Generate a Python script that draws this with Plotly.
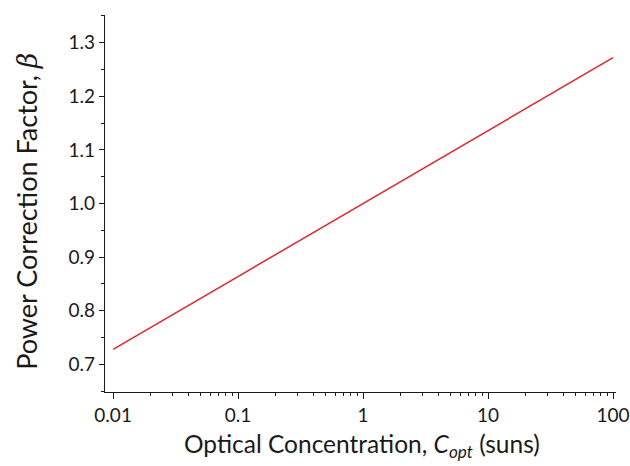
import plotly.graph_objects as go

# Data
concentration = [0.01, 0.1, 1, 10, 100]
beta = [0.728, 0.864, 1.0, 1.136, 1.272]

x_tickvals = [0.01, 0.1, 1, 10, 100]
x_ticktext = ["0.01", "0.1", "1", "10", "100"]
x_minor = [m * 10 ** e for e in (-2, -1, 0, 1) for m in range(2, 10)]
y_tickvals = [0.7, 0.8, 0.9, 1.0, 1.1, 1.2, 1.3]
y_ticktext = ["0.7", "0.8", "0.9", "1.0", "1.1", "1.2", "1.3"]

x_title = "Optical Concentration, <i>C</i><sub><i>opt</i></sub> (suns)"
y_title = "Power Correction Factor, <span style=\"font-family:'DejaVu Serif'\"><i>β</i></span>"

font_family = "Lato, 'Open Sans', sans-serif"
ink = "#1a1a1a"

fig = go.Figure()
fig.add_trace(go.Scatter(
    x=concentration, y=beta, mode="lines",
    line=dict(color="#e0262e", width=1.5),
    showlegend=False,
))

fig.update_layout(
    width=630, height=466,
    margin=dict(l=105, r=14, t=15, b=74),
    paper_bgcolor="white", plot_bgcolor="white",
    font=dict(family=font_family, color=ink, size=19),
)

fig.update_xaxes(
    type="log", range=[-2.065, 2.024], automargin=False,
    showline=True, linecolor=ink, linewidth=1.3,
    showgrid=False, zeroline=False,
    tickmode="array", tickvals=x_tickvals, ticktext=x_ticktext,
    ticks="outside", ticklen=6, tickwidth=1.2, tickcolor=ink,
    minor=dict(tickmode="array", tickvals=x_minor, ticks="outside",
               ticklen=3, tickwidth=1.2, tickcolor=ink, showgrid=False),
    tickfont=dict(size=19),
)

fig.update_yaxes(
    range=[0.6486, 1.3516], automargin=False,
    showline=True, linecolor=ink, linewidth=1.3,
    showgrid=False, zeroline=False,
    tickmode="array", tickvals=y_tickvals, ticktext=y_ticktext,
    ticks="outside", ticklen=5, tickwidth=1.2, tickcolor=ink,
    ticklabelstandoff=0,
    minor=dict(dtick=0.05, tick0=0.65, ticks="outside",
               ticklen=3, tickwidth=1.2, tickcolor=ink, showgrid=False),
    tickfont=dict(size=19),
)

# Axis titles placed as annotations to match the reference position
fig.add_annotation(
    text=x_title, xref="paper", yref="paper",
    x=0.503, y=-0.092, xanchor="center", yanchor="top",
    showarrow=False, font=dict(size=24.5, family=font_family, color=ink),
)
fig.add_annotation(
    text=y_title, xref="paper", yref="paper",
    x=-0.155, y=0.48, xanchor="center", yanchor="middle", textangle=-90,
    showarrow=False, font=dict(size=27, family=font_family, color=ink),
)

fig.write_html("out.html")
